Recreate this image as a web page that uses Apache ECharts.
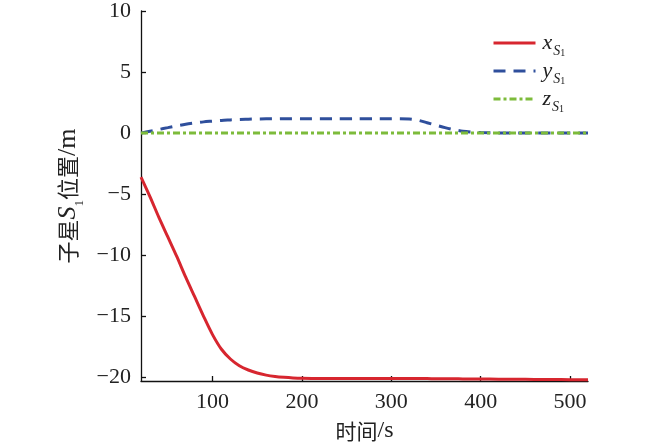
<!DOCTYPE html>
<html>
<head>
<meta charset="utf-8">
<script src="https://cdn.jsdelivr.net/npm/echarts@6/dist/echarts.min.js"></script>
<style>
  html, body { margin: 0; padding: 0; background: #fff; }
  #main { width: 650px; height: 448px; }
</style>
</head>
<body>
<div id="main"></div>
<script>
// 时间轴 (s)
var timeData = [20, 30, 40, 50, 60, 70, 80, 90, 100, 110, 120, 130, 140, 150, 160, 170, 180, 190, 200,
  220, 240, 260, 280, 300, 320, 330, 340, 350, 360, 370, 380, 390, 400, 420, 440, 460, 480, 500, 520];
// 子星S1位置 x/y/z (m)
var xS1 = [-3.6, -5.2, -6.9, -8.5, -10.1, -11.8, -13.4, -15.0, -16.5, -17.7, -18.5, -19.05, -19.4, -19.65,
  -19.82, -19.93, -20.0, -20.05, -20.08, -20.1, -20.1, -20.1, -20.1, -20.1, -20.1, -20.1, -20.1, -20.12,
  -20.12, -20.12, -20.13, -20.13, -20.14, -20.15, -20.16, -20.17, -20.18, -20.19, -20.2];
var yS1 = [0, 0.15, 0.3, 0.45, 0.6, 0.73, 0.83, 0.92, 0.98, 1.04, 1.08, 1.12, 1.14, 1.16,
  1.17, 1.17, 1.18, 1.18, 1.18, 1.18, 1.18, 1.18, 1.18, 1.18, 1.15, 1.05, 0.85, 0.65,
  0.45, 0.28, 0.15, 0.08, 0.04, 0.01, 0, 0, 0, 0, 0];
var zS1 = [0, 0, 0, 0, 0, 0, 0, 0, 0, 0, 0, 0, 0, 0, 0, 0, 0, 0, 0,
  0, 0, 0, 0, 0, 0, 0, 0, 0, 0, 0, 0, 0, 0, 0, 0, 0, 0, 0, 0];
var xTicks = [100, 200, 300, 400, 500];
var yTicks = [-20, -15, -10, -5, 0, 5, 10];

function pairs(ys) {
  return timeData.map(function (t, i) { return [t, ys[i]]; });
}

var serif = '"Liberation Serif", "Times New Roman", serif';
var cjk = '"Noto Sans CJK SC", sans-serif';

// 图例下标：x 行高 30 居中，S 和 1 贴行底
var legendRich = {
  v: { fontFamily: serif, fontStyle: 'italic', fontSize: 22, color: '#222', lineHeight: 30 },
  s: { fontFamily: serif, fontStyle: 'italic', fontSize: 14, color: '#222', verticalAlign: 'bottom', lineHeight: 14, padding: [0, 0, 0, 1] },
  n: { fontFamily: serif, fontSize: 10, color: '#222', verticalAlign: 'bottom', lineHeight: 10 }
};

var myChart = echarts.init(document.getElementById('main'));
var option = {
  backgroundColor: '#fff',
  animation: false,
  grid: { left: 141, right: 62, top: 11, bottom: 64 },
  legend: {
    orient: 'vertical',
    left: 487,
    top: 27,
    itemWidth: 42,
    itemHeight: 14,
    itemGap: 2,
    data: ['x', 'y', 'z'],
    itemStyle: { opacity: 0, color: 'rgba(0,0,0,0)', borderWidth: 0 },
    lineStyle: { width: 3 },
    formatter: function (name) {
      return '{v|' + name + '}{s|S}{n|1}';
    },
    textStyle: { rich: legendRich, padding: [0, 0, 0, 2] }
  },
  xAxis: {
    type: 'value',
    min: 20,
    max: 520,
    name: '{c|时间}{l|/s}',
    nameLocation: 'middle',
    nameGap: 38,
    nameTextStyle: {
      rich: {
        c: { fontFamily: cjk, fontSize: 21, color: '#222' },
        l: { fontFamily: serif, fontSize: 24, color: '#222' }
      }
    },
    splitLine: { show: false },
    axisLine: { onZero: false, lineStyle: { color: '#111', width: 1.3 } },
    axisTick: { inside: true, length: 5, customValues: xTicks, lineStyle: { color: '#111', width: 1.3 } },
    axisLabel: { customValues: xTicks, fontFamily: serif, fontSize: 22, color: '#222', margin: 10 }
  },
  yAxis: {
    type: 'value',
    min: -20.3,
    max: 10,
    name: '{c|子星}{s|S}{n|1}{c|位置}{l|/m}',
    nameLocation: 'middle',
    nameGap: 55,
    nameTextStyle: {
      rich: {
        c: { fontFamily: cjk, fontSize: 22, color: '#222' },
        s: { fontFamily: serif, fontStyle: 'italic', fontSize: 26, color: '#222' },
        n: { fontFamily: serif, fontSize: 13, color: '#222', verticalAlign: 'bottom', padding: [0, 0, -5, 0] },
        l: { fontFamily: serif, fontSize: 26, color: '#222' }
      }
    },
    splitLine: { show: false },
    axisLine: { show: true, onZero: false, lineStyle: { color: '#111', width: 1.3 } },
    axisTick: { show: true, inside: true, length: 5, customValues: yTicks, lineStyle: { color: '#111', width: 1.3 } },
    axisLabel: {
      customValues: yTicks,
      fontFamily: serif, fontSize: 22, color: '#222', margin: 10,
      formatter: function (v) { return String(v).replace('-', '\u2212'); }
    }
  },
  series: [
    {
      name: 'x',
      type: 'line',
      data: pairs(xS1),
      symbol: 'none',
      smooth: 0.3,
      z: 3,
      itemStyle: { color: '#d7262f' },
      lineStyle: { color: '#d7262f', width: 3 }
    },
    {
      name: 'y',
      type: 'line',
      data: pairs(yS1),
      symbol: 'none',
      smooth: 0.3,
      z: 2,
      itemStyle: { color: '#2f4f9c' },
      lineStyle: { color: '#2f4f9c', width: 3, type: [12, 8] }
    },
    {
      name: 'z',
      type: 'line',
      data: pairs(zS1),
      symbol: 'none',
      z: 4,
      itemStyle: { color: '#7dbb3b' },
      lineStyle: { color: '#7dbb3b', width: 3, type: [7, 3, 3, 3] }
    }
  ]
};
myChart.setOption(option);
</script>
</body>
</html>
